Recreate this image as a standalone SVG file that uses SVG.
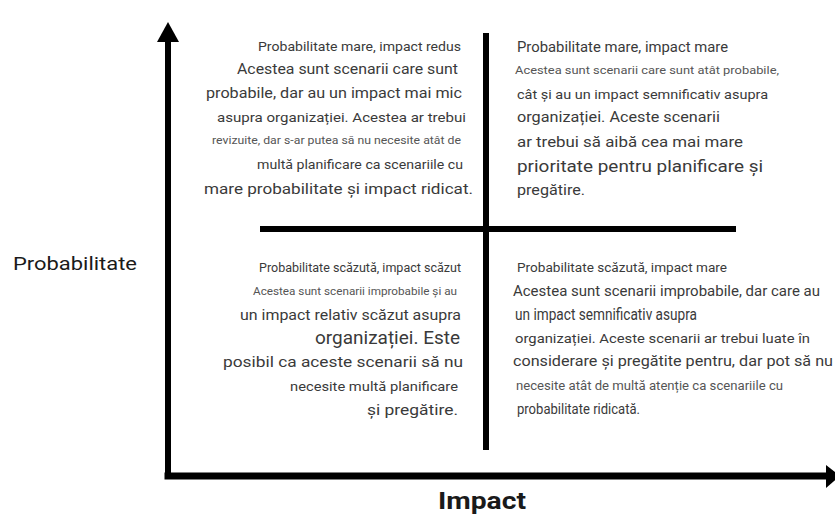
<svg xmlns="http://www.w3.org/2000/svg" width="835" height="515" viewBox="0 0 835 515">
  <style>
    .t { font-family: Roboto, "Noto Sans", "Liberation Sans", sans-serif; fill: #3a3a3a; }
    .s { fill: #555555; }
    .r { text-anchor: end; }
    .ax { stroke: #000; stroke-linecap: square; fill: none; }
    .ah { fill: #000; }
    .lbl { font-family: Roboto, "Noto Sans", "Liberation Sans", sans-serif; fill: #1a1a1a; }
  </style>
  <rect width="835" height="515" fill="#ffffff"/>

  <!-- axes and quadrant dividers -->
  <g id="connectors">
    <line class="ax" x1="168" y1="476" x2="168" y2="40" stroke-width="6"/>
    <polygon class="ah" points="168,22 157,42 179,42"/>
    <line class="ax" x1="168" y1="476" x2="826" y2="476" stroke-width="7"/>
    <polygon class="ah" points="826,465 840,476 826,488"/>
    <line x1="486" y1="33" x2="486" y2="450" stroke="#000" stroke-width="6"/>
    <line x1="260" y1="229" x2="736" y2="229" stroke="#000" stroke-width="6"/>
  </g>

  <!-- axis labels -->
  <g id="label-probabilitate">
    <text class="lbl" x="13" y="270" font-size="19" textLength="124" lengthAdjust="spacingAndGlyphs">Probabilitate</text>
  </g>
  <g id="label-impact">
    <text class="lbl" x="438" y="509" font-size="23" font-weight="bold" textLength="88" lengthAdjust="spacingAndGlyphs">Impact</text>
  </g>

  <!-- high probability, low impact -->
  <g id="q-mare-redus" class="t r">
    <text x="461" y="51" font-size="13" textLength="203" lengthAdjust="spacingAndGlyphs">Probabilitate mare, impact redus</text>
    <text x="458" y="74" font-size="15" textLength="221" lengthAdjust="spacingAndGlyphs">Acestea sunt scenarii care sunt</text>
    <text x="462" y="98" font-size="15" textLength="256" lengthAdjust="spacingAndGlyphs">probabile, dar au un impact mai mic</text>
    <text x="466" y="122" font-size="13.5" textLength="249" lengthAdjust="spacingAndGlyphs">asupra organizației. Acestea ar trebui</text>
    <text class="s" x="461" y="144" font-size="11" textLength="249" lengthAdjust="spacingAndGlyphs">revizuite, dar s-ar putea să nu necesite atât de</text>
    <text x="463" y="169" font-size="12.5" textLength="206" lengthAdjust="spacingAndGlyphs">multă planificare ca scenariile cu</text>
    <text x="473" y="194" font-size="15.5" textLength="269" lengthAdjust="spacingAndGlyphs">mare probabilitate și impact ridicat.</text>
  </g>

  <!-- high probability, high impact -->
  <g id="q-mare-mare" class="t">
    <text x="517" y="52" font-size="14" textLength="211" lengthAdjust="spacingAndGlyphs">Probabilitate mare, impact mare</text>
    <text class="s" x="515" y="74" font-size="11.5" textLength="264" lengthAdjust="spacingAndGlyphs">Acestea sunt scenarii care sunt atât probabile,</text>
    <text x="517" y="99" font-size="13.5" textLength="251" lengthAdjust="spacingAndGlyphs">cât și au un impact semnificativ asupra</text>
    <text x="517" y="122" font-size="14.5" textLength="203" lengthAdjust="spacingAndGlyphs">organizației. Aceste scenarii</text>
    <text x="517" y="147" font-size="15.5" textLength="226" lengthAdjust="spacingAndGlyphs">ar trebui să aibă cea mai mare</text>
    <text x="517" y="172" font-size="16.5" textLength="246" lengthAdjust="spacingAndGlyphs">prioritate pentru planificare și</text>
    <text x="517" y="195" font-size="14.5" textLength="68" lengthAdjust="spacingAndGlyphs">pregătire.</text>
  </g>

  <!-- low probability, low impact -->
  <g id="q-scazuta-scazut" class="t r">
    <text x="461" y="272" font-size="12" textLength="202" lengthAdjust="spacingAndGlyphs">Probabilitate scăzută, impact scăzut</text>
    <text class="s" x="457" y="295" font-size="11" textLength="204" lengthAdjust="spacingAndGlyphs">Acestea sunt scenarii improbabile și au</text>
    <text x="461" y="320" font-size="15" textLength="221" lengthAdjust="spacingAndGlyphs">un impact relativ scăzut asupra</text>
    <text x="460" y="344" font-size="17.5" textLength="145" lengthAdjust="spacingAndGlyphs">organizației. Este</text>
    <text x="463" y="367" font-size="15.5" textLength="240" lengthAdjust="spacingAndGlyphs">posibil ca aceste scenarii să nu</text>
    <text x="458" y="391" font-size="13" textLength="168" lengthAdjust="spacingAndGlyphs">necesite multă planificare</text>
    <text x="458" y="415" font-size="15.5" textLength="91" lengthAdjust="spacingAndGlyphs">și pregătire.</text>
  </g>

  <!-- low probability, high impact -->
  <g id="q-scazuta-mare" class="t">
    <text x="517" y="272" font-size="12.5" textLength="210" lengthAdjust="spacingAndGlyphs">Probabilitate scăzută, impact mare</text>
    <text x="513" y="296" font-size="14" textLength="307" lengthAdjust="spacingAndGlyphs">Acestea sunt scenarii improbabile, dar care au</text>
    <text x="515" y="320" font-size="17" textLength="182" lengthAdjust="spacingAndGlyphs">un impact semnificativ asupra</text>
    <text x="515" y="343" font-size="13" textLength="295" lengthAdjust="spacingAndGlyphs">organizației. Aceste scenarii ar trebui luate în</text>
    <text x="513" y="366" font-size="14.5" textLength="320" lengthAdjust="spacingAndGlyphs">considerare și pregătite pentru, dar pot să nu</text>
    <text class="s" x="516" y="390" font-size="12" textLength="267" lengthAdjust="spacingAndGlyphs">necesite atât de multă atenție ca scenariile cu</text>
    <text x="517" y="414" font-size="15" textLength="123" lengthAdjust="spacingAndGlyphs">probabilitate ridicată.</text>
  </g>
</svg>
